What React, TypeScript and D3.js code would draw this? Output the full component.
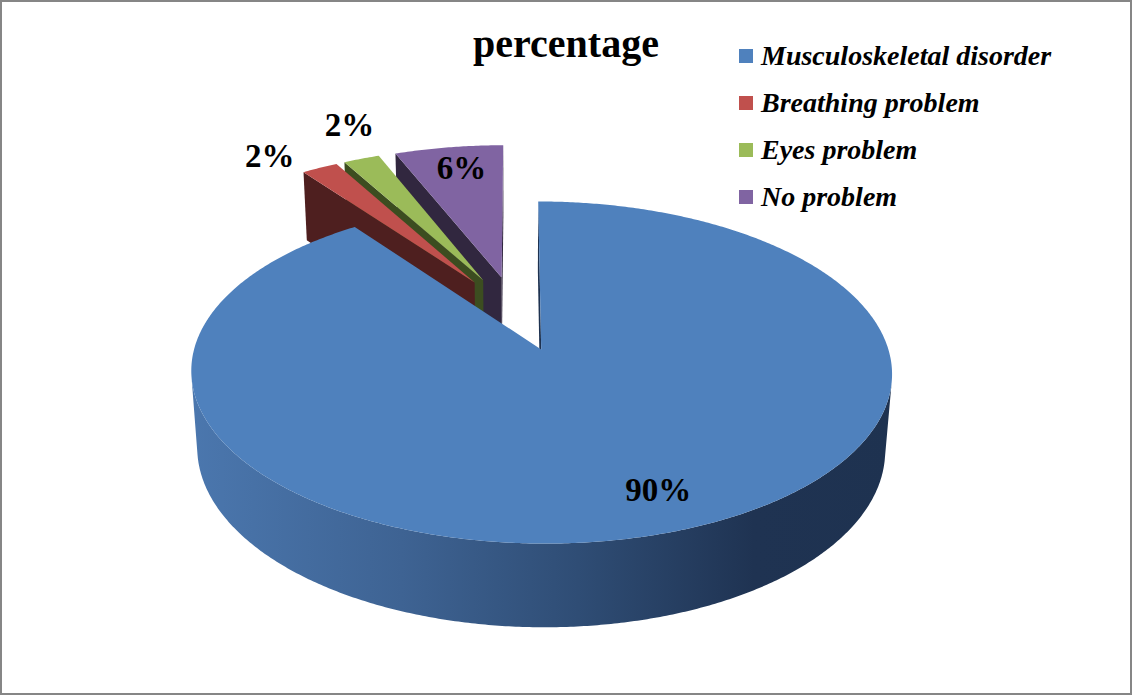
import React from "react";
import * as d3 from "d3";

// Survey results: share of respondents per health complaint
const categories = [
  "Musculoskeletal disorder",
  "Breathing problem",
  "Eyes problem",
  "No problem",
];
const values = [90, 2, 2, 6];
const valueLabels = ["90%", "2%", "2%", "6%"];
const chartTitle = "percentage";

// Slice styling
const topColors = ["#4F81BD", "#C0504D", "#9BBB59", "#8064A2"];
const cutColors = ["#1e3250", "#4e1f1f", "#3c4d20", "#31273f"];
// Label placement relative to each slice: radius factor and angular shift (deg)
const labelRadius = [0.81, 1.18, 1.29, 0.82];
const labelShift = [-3.4, -4.8, 3.1, 1.0];

const W = 1132;
const H = 696;

// 3D view of the pie (unit radius disc, viewed from above with perspective)
const CX = 516;
const CY = 313;
const K = 337;
const SIN_A = 0.4696;
const COS_A = Math.sqrt(1 - SIN_A * SIN_A);
const DIST = 6.74;
const DEPTH = 0.255;
const EXPLODE = 0.235;
const CAM: [number, number, number] = [0, -DIST * COS_A, DIST * SIN_A];

type V3 = [number, number, number];
type P2 = [number, number];

function project(p: V3): P2 {
  const [X, Y, Z] = p;
  const yv = Y * SIN_A + Z * COS_A;
  const zv = -Y * COS_A + Z * SIN_A;
  const s = DIST / (DIST - zv);
  return [CX + K * s * X, CY - K * s * yv];
}

function facesCamera(p: V3, n: V3): boolean {
  return (
    (CAM[0] - p[0]) * n[0] + (CAM[1] - p[1]) * n[1] + (CAM[2] - p[2]) * n[2] > 0
  );
}

const line = d3.line<P2>();
const closed = (pts: P2[]) => (line(pts) || "") + "Z";

export default function App() {
  const pie = d3
    .pie<number>()
    .sort(null)
    .value((d) => d)
    .startAngle(0)
    .endAngle(2 * Math.PI);
  const arcs = pie(values);

  const slices = arcs.map((a, i) => {
    const a0 = a.startAngle;
    const a1 = a.endAngle;
    const mid = (a0 + a1) / 2;
    const ox = EXPLODE * Math.sin(mid);
    const oy = EXPLODE * Math.cos(mid);
    const w = (t: number, r: number, z: number): V3 => [
      ox + r * Math.sin(t),
      oy + r * Math.cos(t),
      z,
    ];
    const steps = Math.max(4, Math.ceil(((a1 - a0) * 180) / Math.PI / 0.5));
    const ts = d3.range(steps + 1).map((j) => a0 + ((a1 - a0) * j) / steps);

    // top face
    const top = closed([project(w(0, 0, 0)), ...ts.map((t) => project(w(t, 1, 0)))]);

    // radial cut faces
    const cuts: string[] = [];
    const cutFace = (t: number, n: V3) => {
      if (facesCamera(w(t, 0.5, -DEPTH / 2), n)) {
        cuts.push(
          closed([
            project(w(t, 0, 0)),
            project(w(t, 1, 0)),
            project(w(t, 1, -DEPTH)),
            project(w(t, 0, -DEPTH)),
          ])
        );
      }
    };
    cutFace(a0, [-Math.cos(a0), Math.sin(a0), 0]);
    cutFace(a1, [Math.cos(a1), -Math.sin(a1), 0]);

    // outer curved wall, only the parts turned towards the viewer
    const walls: string[] = [];
    let run: number[] = [];
    const flush = () => {
      if (run.length > 1) {
        const up = run.map((t) => project(w(t, 1, 0)));
        const down = run
          .slice()
          .reverse()
          .map((t) => project(w(t, 1, -DEPTH)));
        walls.push(closed([...up, ...down]));
      }
      run = [];
    };
    for (let j = 0; j < steps; j++) {
      const tm = (ts[j] + ts[j + 1]) / 2;
      const vis = facesCamera(w(tm, 1, -DEPTH / 2), [Math.sin(tm), Math.cos(tm), 0]);
      if (vis) {
        if (run.length === 0) run.push(ts[j]);
        run.push(ts[j + 1]);
      } else flush();
    }
    flush();

    const lt = mid + (labelShift[i] * Math.PI) / 180;
    const labelPos = project(w(lt, labelRadius[i], 0));

    return { i, top, cuts, walls, labelPos };
  });

  // farthest slices first, the large front slice last
  const order = [3, 2, 1, 0];

  return (
    <svg
      width={W}
      height={H}
      style={{ position: "absolute", left: 0, top: 0, background: "#fff" }}
    >
      <defs>
        <linearGradient id="sideBlue" gradientUnits="userSpaceOnUse" x1={190} x2={895} y1={0} y2={0}>
          <stop offset="0" stopColor="#4b77ae" />
          <stop offset="0.3" stopColor="#3e6393" />
          <stop offset="0.55" stopColor="#2f4d75" />
          <stop offset="0.8" stopColor="#1f3352" />
          <stop offset="1" stopColor="#1e3250" />
        </linearGradient>
      </defs>
      <rect x={1} y={1} width={W - 2} height={H - 3} fill="#fff" stroke="#868686" strokeWidth={2} />

      {order.map((idx) => {
        const s = slices[idx];
        return (
          <g key={categories[idx]}>
            {s.cuts.map((d, j) => (
              <path key={"c" + j} d={d} fill={cutColors[idx]} />
            ))}
            {s.walls.map((d, j) => (
              <path key={"w" + j} d={d} fill={idx === 0 ? "url(#sideBlue)" : cutColors[idx]} />
            ))}
            <path d={s.top} fill={topColors[idx]} />
          </g>
        );
      })}

      <g fontFamily="'Liberation Serif', serif" fontWeight="bold" fill="#000">
        {slices.map((s) => (
          <text
            key={"l" + s.i}
            x={s.labelPos[0]}
            y={s.labelPos[1]}
            textAnchor="middle"
            dominantBaseline="central"
            fontSize={33}
          >
            {valueLabels[s.i]}
          </text>
        ))}
        <text x={566} y={57} textAnchor="middle" fontSize={40}>
          {chartTitle}
        </text>
      </g>

      <g fontFamily="'Liberation Serif', serif" fontWeight="bold" fontStyle="italic" fontSize={28}>
        {categories.map((c, i) => (
          <g key={c} transform={`translate(739, ${49 + i * 47})`}>
            <rect width={14} height={14} fill={topColors[i]} />
            <text x={22} y={16} fill="#000">
              {c}
            </text>
          </g>
        ))}
      </g>
    </svg>
  );
}
